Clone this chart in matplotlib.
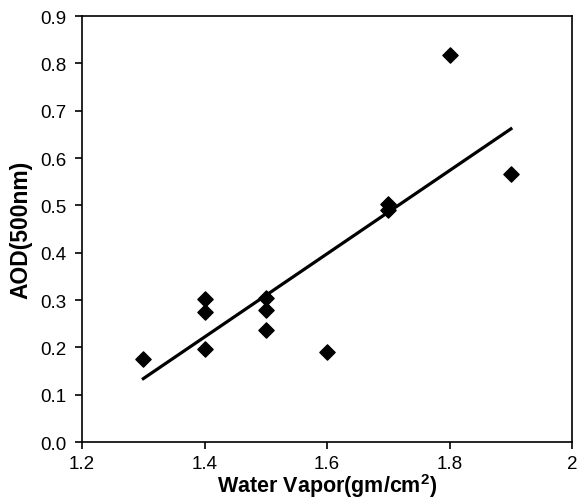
import matplotlib.pyplot as plt
import numpy as np

plt.rcParams['font.family'] = ['Liberation Sans', 'DejaVu Sans']

# Water vapor vs AOD observations
water_vapor = [1.3, 1.4, 1.4, 1.4, 1.5, 1.5, 1.5, 1.6, 1.7, 1.7, 1.8, 1.9]
aod = [0.175, 0.302, 0.274, 0.196, 0.304, 0.279, 0.236, 0.191, 0.502, 0.490, 0.818, 0.567]

x_ticks = [1.2, 1.4, 1.6, 1.8, 2.0]
x_tick_labels = ["1.2", "1.4", "1.6", "1.8", "2"]
y_ticks = [0.0, 0.1, 0.2, 0.3, 0.4, 0.5, 0.6, 0.7, 0.8, 0.9]

fig = plt.figure(figsize=(5.78, 5.02), dpi=100)
ax = fig.add_axes([0.142, 0.1175, 0.848, 0.8486])

ax.scatter(water_vapor, aod, marker='D', s=60, color='black', zorder=3)

# linear trend line
slope, intercept = np.polyfit(water_vapor, aod, 1)
xs = np.array([min(water_vapor), max(water_vapor)])
ax.plot(xs, slope * xs + intercept, color='black', lw=2.3)

ax.set_xlim(1.2, 2.0)
ax.set_ylim(0, 0.9)
ax.set_xticks(x_ticks)
ax.set_xticklabels(x_tick_labels)
ax.set_yticks(y_ticks)
ax.set_yticklabels([f"{v:.1f}" for v in y_ticks])
ax.tick_params(direction='out', length=5, width=1.2, labelsize=13.5, colors='black')
ax.tick_params(axis='x', pad=4)
ax.tick_params(axis='y', pad=6)

for s in ax.spines.values():
    s.set_linewidth(1.2)

ax.set_xlabel("Water Vapor(gm/cm$^\\mathregular{2}$)", fontsize=15.5, fontweight='bold', labelpad=0)
ax.set_ylabel("AOD(500nm)", fontsize=16.5, fontweight='bold', labelpad=6)

fig.savefig("out.png", dpi=100)
